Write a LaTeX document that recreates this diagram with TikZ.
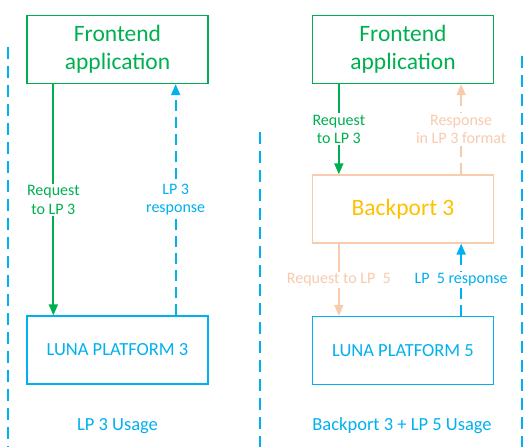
\documentclass[tikz,border=0pt]{standalone}
\usepackage{fontspec}
\setmainfont{Carlito}
\usetikzlibrary{arrows.meta}
\definecolor{luna@green}{HTML}{00B050}
\definecolor{luna@blue}{HTML}{00B0F0}
\definecolor{luna@peach}{HTML}{F8CBAD}
\definecolor{luna@yellow}{HTML}{FFC000}

\tikzset{
  box/.style={draw, line width=1.3pt, minimum width=181pt, minimum height=68pt,
    inner sep=0pt, align=center},
  bigtext/.style={font=\fontsize{23.5}{28}\selectfont},
  midtext/.style={font=\fontsize{18.5}{22}\selectfont},
  lbl/.style={fill=white, inner sep=1.5pt, align=center,
    font=\fontsize{16}{18.5}\selectfont},
  req/.style={-{Triangle[length=11pt,width=9pt]}, line width=1.9pt},
  resp/.style={req, dash pattern=on 11pt off 6pt},
  sep/.style={luna@blue, line width=1.2pt, dash pattern=on 12pt off 7pt},
}

\begin{document}
\begin{tikzpicture}[x=1pt,y=-1pt]
\useasboundingbox (0,0) rectangle (530,447);

% separators
\draw[sep] (8,47) -- (8,447);
\draw[sep] (260,132) -- (260,447);
\draw[sep] (522,56) -- (522,447);

\begin{scope}
  % Frontend
  \node[box, bigtext, luna@green] (fe3) at (117.5,49.5) {Frontend\\application};

  % LUNA PLATFORM 3
  \node[box, midtext, luna@blue] (lp3) at (117.5,350) {LUNA PLATFORM 3};

  \draw[req, luna@green] ([xshift=27pt]fe3.south west) -- ([xshift=27pt]lp3.north west)
    node[midway, lbl] {Request\\to LP 3};
  \draw[resp, luna@blue] ([xshift=-33pt]lp3.north east) -- ([xshift=-33pt]fe3.south east)
    node[midway, lbl] {LP 3\\response};

  \node[midtext, luna@blue, anchor=base] (use3) at (117.5,430) {LP 3 Usage};
\end{scope}

\begin{scope}[shift={(285,0)}]
  % Frontend
  \node[box, bigtext, luna@green] (fe5) at (118,49.5) {Frontend\\application};

  % Backport 3
  \node[box, bigtext, draw=luna@peach, text=luna@yellow] (bp3) at (118,209) {Backport 3};

  % LUNA PLATFORM 5
  \node[box, midtext, luna@blue] (lp5) at (118,350.5) {LUNA PLATFORM 5};

  \draw[req, luna@green] ([xshift=27pt]fe5.south west) -- ([xshift=27pt]bp3.north west)
    node[midway, lbl] {Request\\to LP 3};
  \draw[resp, luna@peach] ([xshift=-33pt]bp3.north east) -- ([xshift=-33pt]fe5.south east)
    node[midway, lbl] {Response\\in LP 3 format};

  \draw[req, luna@peach] ([xshift=27pt]bp3.south west) -- ([xshift=27pt]lp5.north west)
    node[midway, lbl] {Request to LP\ \ 5};
  \draw[resp, luna@blue] ([xshift=-33pt]lp5.north east) -- ([xshift=-33pt]bp3.south east)
    node[midway, lbl] {LP\ \ 5 response};

  \node[midtext, luna@blue, anchor=base] (use5) at (117,430) {Backport 3 + LP 5 Usage};
\end{scope}

\end{tikzpicture}
\end{document}
